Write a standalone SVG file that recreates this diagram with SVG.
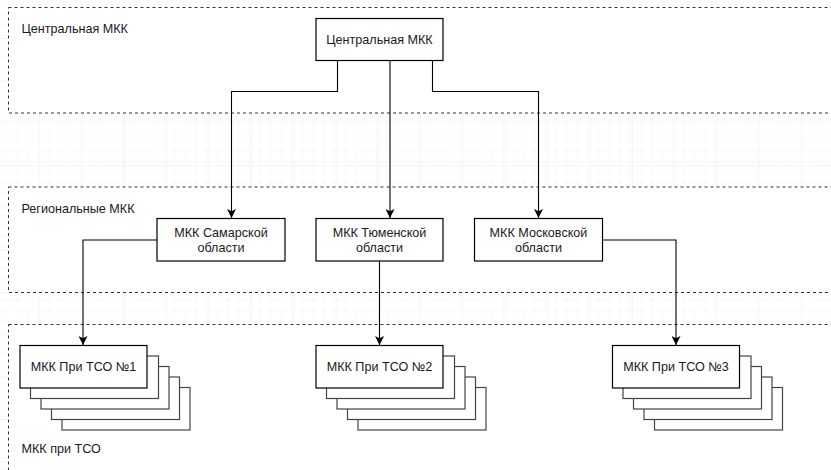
<svg xmlns="http://www.w3.org/2000/svg" width="831" height="470" viewBox="0 0 831 470">
<style>
text{font-family:"Liberation Sans",Arial,sans-serif;font-size:12.6px;fill:#1a1a1a}
.c{text-anchor:middle;dominant-baseline:central}
.l{dominant-baseline:central}
.zone{fill:#fff;stroke:#333;stroke-width:1;stroke-dasharray:3 3}
.box{fill:#fff;stroke:#000;stroke-width:1.2}
.back{fill:#fff;stroke:#444;stroke-width:1.2}
.edge{fill:none;stroke:#000;stroke-width:1.1;marker-end:url(#arr)}
</style>
<defs>
<pattern id="minor" width="10.58" height="10.58" patternUnits="userSpaceOnUse" x="-2" y="-3.3">
<path d="M10.58 0V10.58H0" fill="none" stroke="#f4f4f4" stroke-width="1"/>
</pattern>
<pattern id="major" width="42.33" height="42.33" patternUnits="userSpaceOnUse" x="-2" y="-3.3">
<rect width="42.33" height="42.33" fill="url(#minor)"/>
<path d="M42.33 0V42.33H0" fill="none" stroke="#ececec" stroke-width="1"/>
</pattern>
<marker id="arr" viewBox="0 0 10 10" refX="10" refY="5" markerWidth="9" markerHeight="9" markerUnits="userSpaceOnUse" orient="auto">
<path d="M0,0 L10,5 L0,10 L2.5,5 Z" fill="#000"/>
</marker>
</defs>
<rect width="831" height="470" fill="#fff"/>
<rect width="831" height="470" fill="url(#major)"/>

<g id="zone-central">
<rect class="zone" x="8.5" y="7.5" width="840" height="105.5"/>
<text class="l" x="21.5" y="28.5">Центральная МКК</text>
</g>
<g id="zone-regional">
<rect class="zone" x="8.5" y="187" width="840" height="105.5"/>
<text class="l" x="21.5" y="208.5">Региональные МКК</text>
</g>
<g id="zone-tso">
<rect class="zone" x="8.5" y="324.5" width="840" height="160"/>
<text class="l" x="21.5" y="448.5">МКК при ТСО</text>
</g>

<g id="connectors">
<path class="edge" d="M337.5,61 V91.5 H231.5 V218"/>
<path class="edge" d="M390,61 V218"/>
<path class="edge" d="M432.5,61 V91.5 H538.5 V218"/>
<path class="edge" d="M157,240 H83 V345"/>
<path class="edge" d="M379.5,261 V345"/>
<path class="edge" d="M602,240 H676 V345"/>
</g>

<g id="central">
<rect class="box" x="316" y="18.5" width="127" height="42"/>
<text class="c" x="379.5" y="40">Центральная МКК</text>
</g>

<g id="samara">
<rect class="box" x="157" y="218.5" width="128" height="42.5"/>
<text class="c" x="221" y="233">МКК Самарской</text>
<text class="c" x="221" y="248">области</text>
</g>
<g id="tyumen">
<rect class="box" x="316" y="218.5" width="127" height="42.5"/>
<text class="c" x="379.5" y="233">МКК Тюменской</text>
<text class="c" x="379.5" y="248">области</text>
</g>
<g id="moscow">
<rect class="box" x="474.5" y="218.5" width="128" height="42.5"/>
<text class="c" x="538.5" y="233">МКК Московской</text>
<text class="c" x="538.5" y="248">области</text>
</g>

<g id="tso1">
<rect class="back" x="62" y="387.5" width="128" height="42.5"/>
<rect class="back" x="51.5" y="377" width="128" height="42.5"/>
<rect class="back" x="41" y="366.5" width="128" height="42.5"/>
<rect class="back" x="30.5" y="356" width="128" height="42.5"/>
<rect class="box" x="20" y="345.5" width="127" height="42.5"/>
<text class="c" x="83.5" y="366.5">МКК При ТСО №1</text>
</g>
<g id="tso2">
<rect class="back" x="358" y="387.5" width="128" height="42.5"/>
<rect class="back" x="347.5" y="377" width="128" height="42.5"/>
<rect class="back" x="337" y="366.5" width="128" height="42.5"/>
<rect class="back" x="326.5" y="356" width="128" height="42.5"/>
<rect class="box" x="316" y="345.5" width="127" height="42.5"/>
<text class="c" x="379.5" y="366.5">МКК При ТСО №2</text>
</g>
<g id="tso3">
<rect class="back" x="654.5" y="387.5" width="128" height="42.5"/>
<rect class="back" x="644" y="377" width="128" height="42.5"/>
<rect class="back" x="633.5" y="366.5" width="128" height="42.5"/>
<rect class="back" x="623" y="356" width="128" height="42.5"/>
<rect class="box" x="612.5" y="345.5" width="127" height="42.5"/>
<text class="c" x="676" y="366.5">МКК При ТСО №3</text>
</g>
</svg>
